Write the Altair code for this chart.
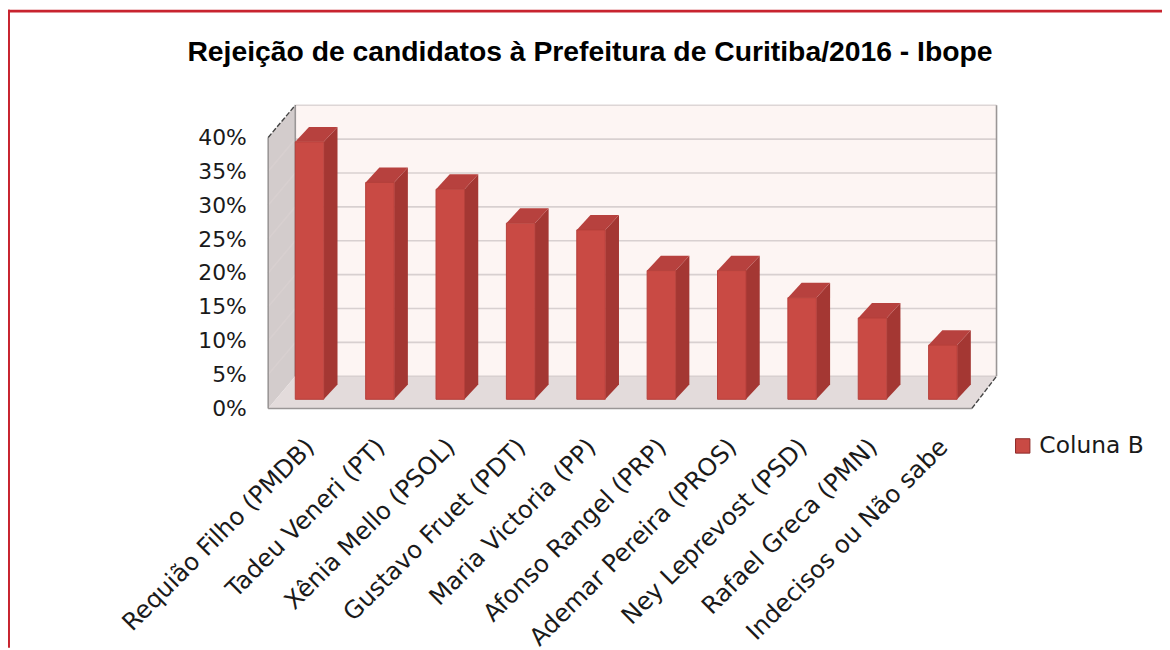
import altair as alt
import pandas as pd

categories = ["Requião Filho (PMDB)", "Tadeu Veneri (PT)", "Xênia Mello (PSOL)", "Gustavo Fruet (PDT)",
              "Maria Victoria (PP)", "Afonso Rangel (PRP)", "Ademar Pereira (PROS)", "Ney Leprevost (PSD)",
              "Rafael Greca (PMN)", "Indecisos ou Não sabe"]
values = [38, 32, 31, 26, 25, 19, 19, 15, 12, 8]
ticks = [0, 5, 10, 15, 20, 25, 30, 35, 40]
series = "Coluna B"
title_text = "Rejeição de candidatos à Prefeitura de Curitiba/2016 - Ibope"

# perspective of the 3D look, in axis units (slots, percent points)
DU, DV = 0.385, 4.75      # depth of the chart box
BAR_W, BASE = 0.405, 1.35 # bar width, where the bars stand on the floor
BU, BV = 0.195, 2.2       # depth of one bar
RIGHT = 10.35
TOP = 40 + DV
FONT = "DejaVu Sans"

xs = alt.Scale(domain=[0, 10.5], nice=False, zero=False)
ys = alt.Scale(domain=[0, 45], nice=False, zero=False)

names_js = "[" + ",".join("'" + c + "'" for c in categories) + "]"
x_axis = alt.Axis(values=[i + 0.6 for i in range(10)], labelExpr=names_js + "[floor(datum.value)]",
                  labelAngle=-45, labelAlign="right", labelBaseline="middle", labelFont=FONT, labelFontSize=24.5,
                  labelColor="#1a1a1a", labelPadding=35, labelLimit=600, domain=False, ticks=False, grid=False,
                  title=None, labelOverlap=False, labelBound=False, labelFlush=False)
y_axis = alt.Axis(values=ticks, labelExpr="datum.value + '%'", labelFont=FONT, labelFontSize=22,
                  labelColor="#1a1a1a", labelPadding=22, domain=False, ticks=False, grid=False, title=None)
X = alt.X("x:Q", scale=xs, axis=x_axis)
Y = alt.Y("y:Q", scale=ys, axis=y_axis)
X2 = alt.X2("x2:Q")
Y2 = alt.Y2("y2:Q")

# box surfaces
back = pd.DataFrame({"x": [DU], "x2": [RIGHT], "y": [DV], "y2": [TOP]})
back_l = alt.Chart(back).mark_rect(color="#FDF5F3").encode(x=X, x2=X2, y=Y, y2=Y2)

side = pd.DataFrame({"x": [0, DU], "y": [0, DV], "y2": [40, TOP]})
side_l = alt.Chart(side).mark_area(color="#D3CCCC").encode(x=X, y=Y, y2=Y2)

floor = pd.DataFrame({"x": [0, DU, 10, RIGHT], "y": [0, 0, 0, DV], "y2": [0, DV, DV, DV]})
floor_l = alt.Chart(floor).mark_area(color="#E3DBDB").encode(x=X, y=Y, y2=Y2)

# grid: on the back wall and slanting across the side wall
grid_rows = []
for t in ticks[1:-1] + [0]:
    grid_rows.append({"x": DU, "y": t + DV, "g": f"b{t}"})
    grid_rows.append({"x": RIGHT, "y": t + DV, "g": f"b{t}"})
for t in ticks[1:-1]:
    grid_rows.append({"x": 0, "y": t, "g": f"s{t}"})
    grid_rows.append({"x": DU, "y": t + DV, "g": f"s{t}"})
grid_l = alt.Chart(pd.DataFrame(grid_rows)).mark_line(color="#D8D0D0", strokeWidth=1.6).encode(
    x=X, y=Y, detail="g:N", order="x:Q")

# box edges
edges_grey = pd.DataFrame([
    {"x": 0, "y": 0, "g": "a"}, {"x": 0, "y": 40, "g": "a"},
    {"x": 0, "y": 0, "g": "b"}, {"x": 10, "y": 0, "g": "b"},
    {"x": DU, "y": DV, "g": "c"}, {"x": DU, "y": TOP, "g": "c"},
    {"x": RIGHT, "y": DV, "g": "d"}, {"x": RIGHT, "y": TOP, "g": "d"},
])
edge_l = alt.Chart(edges_grey).mark_line(color="#9A9696", strokeWidth=1.6).encode(x=X, y=Y, detail="g:N")
top_edge = pd.DataFrame({"x": [DU, RIGHT], "y": [TOP, TOP]})
top_l = alt.Chart(top_edge).mark_line(color="#DDD6D6", strokeWidth=1.6).encode(x=X, y=Y)
dark = pd.DataFrame([
    {"x": 0, "y": 40, "g": "a"}, {"x": DU, "y": TOP, "g": "a"},
    {"x": 10, "y": 0, "g": "b"}, {"x": RIGHT, "y": DV, "g": "b"},
])
dark_l = alt.Chart(dark).mark_line(color="#444444", strokeWidth=1.4, strokeDash=[5, 2]).encode(
    x=X, y=Y, detail="g:N")

# bars
front_rows, side_rows, top_rows = [], [], []
for i, v in enumerate(values):
    u0 = DU + i
    t = BASE + v
    front_rows.append({"x": u0, "x2": u0 + BAR_W, "y": BASE, "y2": t, "s": series})
    side_rows += [{"x": u0 + BAR_W, "y": BASE, "y2": t, "b": i},
                  {"x": u0 + BAR_W + BU, "y": BASE + BV, "y2": t + BV, "b": i}]
    top_rows += [{"x": u0, "y": t, "y2": t, "b": i},
                 {"x": u0 + BU, "y": t, "y2": t + BV, "b": i},
                 {"x": u0 + BAR_W, "y": t, "y2": t + BV, "b": i},
                 {"x": u0 + BAR_W + BU, "y": t + BV, "y2": t + BV, "b": i}]
bar_side = alt.Chart(pd.DataFrame(side_rows)).mark_area(color="#A43733").encode(x=X, y=Y, y2=Y2, detail="b:N")
bar_top = alt.Chart(pd.DataFrame(top_rows)).mark_area(color="#B7413E").encode(x=X, y=Y, y2=Y2, detail="b:N")
bar_front = alt.Chart(pd.DataFrame(front_rows)).mark_rect(stroke="#B5403A", strokeWidth=1).encode(
    x=X, x2=X2, y=Y, y2=Y2,
    color=alt.Color("s:N", scale=alt.Scale(domain=[series], range=["#C94A44"]),
                    legend=alt.Legend(title=None, orient="none", legendX=748, legendY=333, symbolType="square",
                                      symbolSize=210, symbolStrokeColor="#8E2A28", symbolStrokeWidth=1,
                                      symbolFillColor="#C0403D", labelFont=FONT, labelFontSize=23.5,
                                      labelColor="#1a1a1a", labelOffset=5)))

# the image's red frame
frame_top = alt.Chart(pd.DataFrame({"a": [0]})).mark_rule(color="#C8242F", strokeWidth=2.6).encode(
    x=alt.value(-262), x2=alt.value(900), y=alt.value(-93.1))
frame_left = alt.Chart(pd.DataFrame({"a": [0]})).mark_rule(color="#C8242F", strokeWidth=2.4).encode(
    x=alt.value(-261.2), y=alt.value(-94.4), y2=alt.value(548))

title_l = alt.Chart(pd.DataFrame({"t": [title_text]})).mark_text(
    font="Liberation Sans", fontSize=28.5, fontWeight="bold", color="#000000", align="center", baseline="alphabetic"
).encode(text="t:N", x=alt.value(324), y=alt.value(-43))

chart = alt.layer(back_l, side_l, floor_l, grid_l, top_l, edge_l, dark_l, bar_side, bar_top, bar_front,
                  frame_top, frame_left, title_l).properties(
    width=744, height=307, autosize="none",
    padding={"left": 262, "top": 94, "right": 156, "bottom": 241},
    background="white",
).configure_view(stroke=None)

chart.save("out.html", embed_options={"renderer": "svg", "actions": False})
